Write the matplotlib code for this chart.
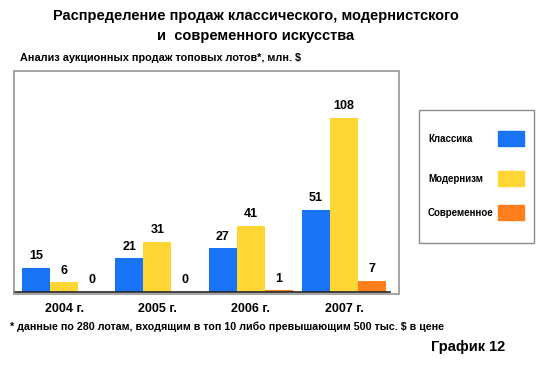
import matplotlib
matplotlib.use("Agg")
import matplotlib.pyplot as plt
import numpy as np
from matplotlib.patches import Rectangle

plt.rcParams['font.family'] = ['Liberation Sans', 'DejaVu Sans']
plt.rcParams['font.weight'] = 'bold'

years = ['2004 г.', '2005 г.', '2006 г.', '2007 г.']
series = ['Классика', 'Модернизм', 'Современное']
classic = [15, 21, 27, 51]
modern = [6, 31, 41, 108]
contemporary = [0, 0, 1, 7]
colors = ['#1874F5', '#FFD633', '#FF7F1E']

W, H = 546, 382
fig = plt.figure(figsize=(W / 100, H / 100), dpi=100)

def fx(px):
    return px / W

def fy(py):
    return 1 - py / H

# grey frame around the plot area
fig.patches.append(Rectangle((fx(14), fy(294)), fx(399) - fx(14), fy(71) - fy(294),
                             transform=fig.transFigure, fill=False,
                             edgecolor='#8c8c8c', linewidth=1.1))

ax = fig.add_axes([fx(14), fy(292), fx(390) - fx(14), fy(71) - fy(292)])
ax.patch.set_alpha(0)
for s in ['top', 'right', 'left']:
    ax.spines[s].set_visible(False)
ax.spines['bottom'].set_color('#222222')
ax.spines['bottom'].set_linewidth(1.2)

x = np.arange(len(years))
bw = 0.3
for i, (vals, c) in enumerate(zip([classic, modern, contemporary], colors)):
    pos = x + (i - 1) * bw
    ax.bar(pos, vals, width=bw, color=c, edgecolor='none')
    for p, v in zip(pos, vals):
        ax.annotate(str(v), (p, v), xytext=(0, 4), textcoords='offset points',
                    ha='center', va='bottom', fontsize=9, fontweight='bold')

ax.set_xlim(-0.536, 3.494)
ax.set_ylim(0, 137)
ax.set_yticks([])
ax.set_xticks(x)
ax.set_xticklabels(years, fontsize=9, fontweight='bold')
ax.tick_params(axis='x', length=0, pad=8)

# legend box
fig.patches.append(Rectangle((fx(419), fy(243)), fx(534) - fx(419), fy(110) - fy(243),
                             transform=fig.transFigure, fill=False,
                             edgecolor='#8c8c8c', linewidth=1.0))
for lab, c, yy in zip(series, colors, [139, 179, 213]):
    fig.text(fx(428), fy(yy), lab, fontsize=7, fontweight='bold', va='center', ha='left')
    fig.patches.append(Rectangle((fx(498), fy(yy + 7)), fx(26), 15 / H,
                                 transform=fig.transFigure, color=c))

fig.text(fx(256), fy(16), 'Распределение продаж классического, модернистского',
         ha='center', va='center', fontsize=10.5, fontweight='bold')
fig.text(fx(256), fy(36), 'и  современного искусства',
         ha='center', va='center', fontsize=10.5, fontweight='bold')
fig.text(fx(20), fy(58), 'Анализ аукционных продаж топовых лотов*, млн. $',
         ha='left', va='center', fontsize=7.8, fontweight='bold')
fig.text(fx(10), fy(327), '* данные по 280 лотам, входящим в топ 10 либо превышающим 500 тыс. $ в цене',
         ha='left', va='center', fontsize=7.7, fontweight='bold')
fig.text(fx(505), fy(347), 'График 12', ha='right', va='center', fontsize=10.5, fontweight='bold')

fig.savefig('out.png', dpi=100)
